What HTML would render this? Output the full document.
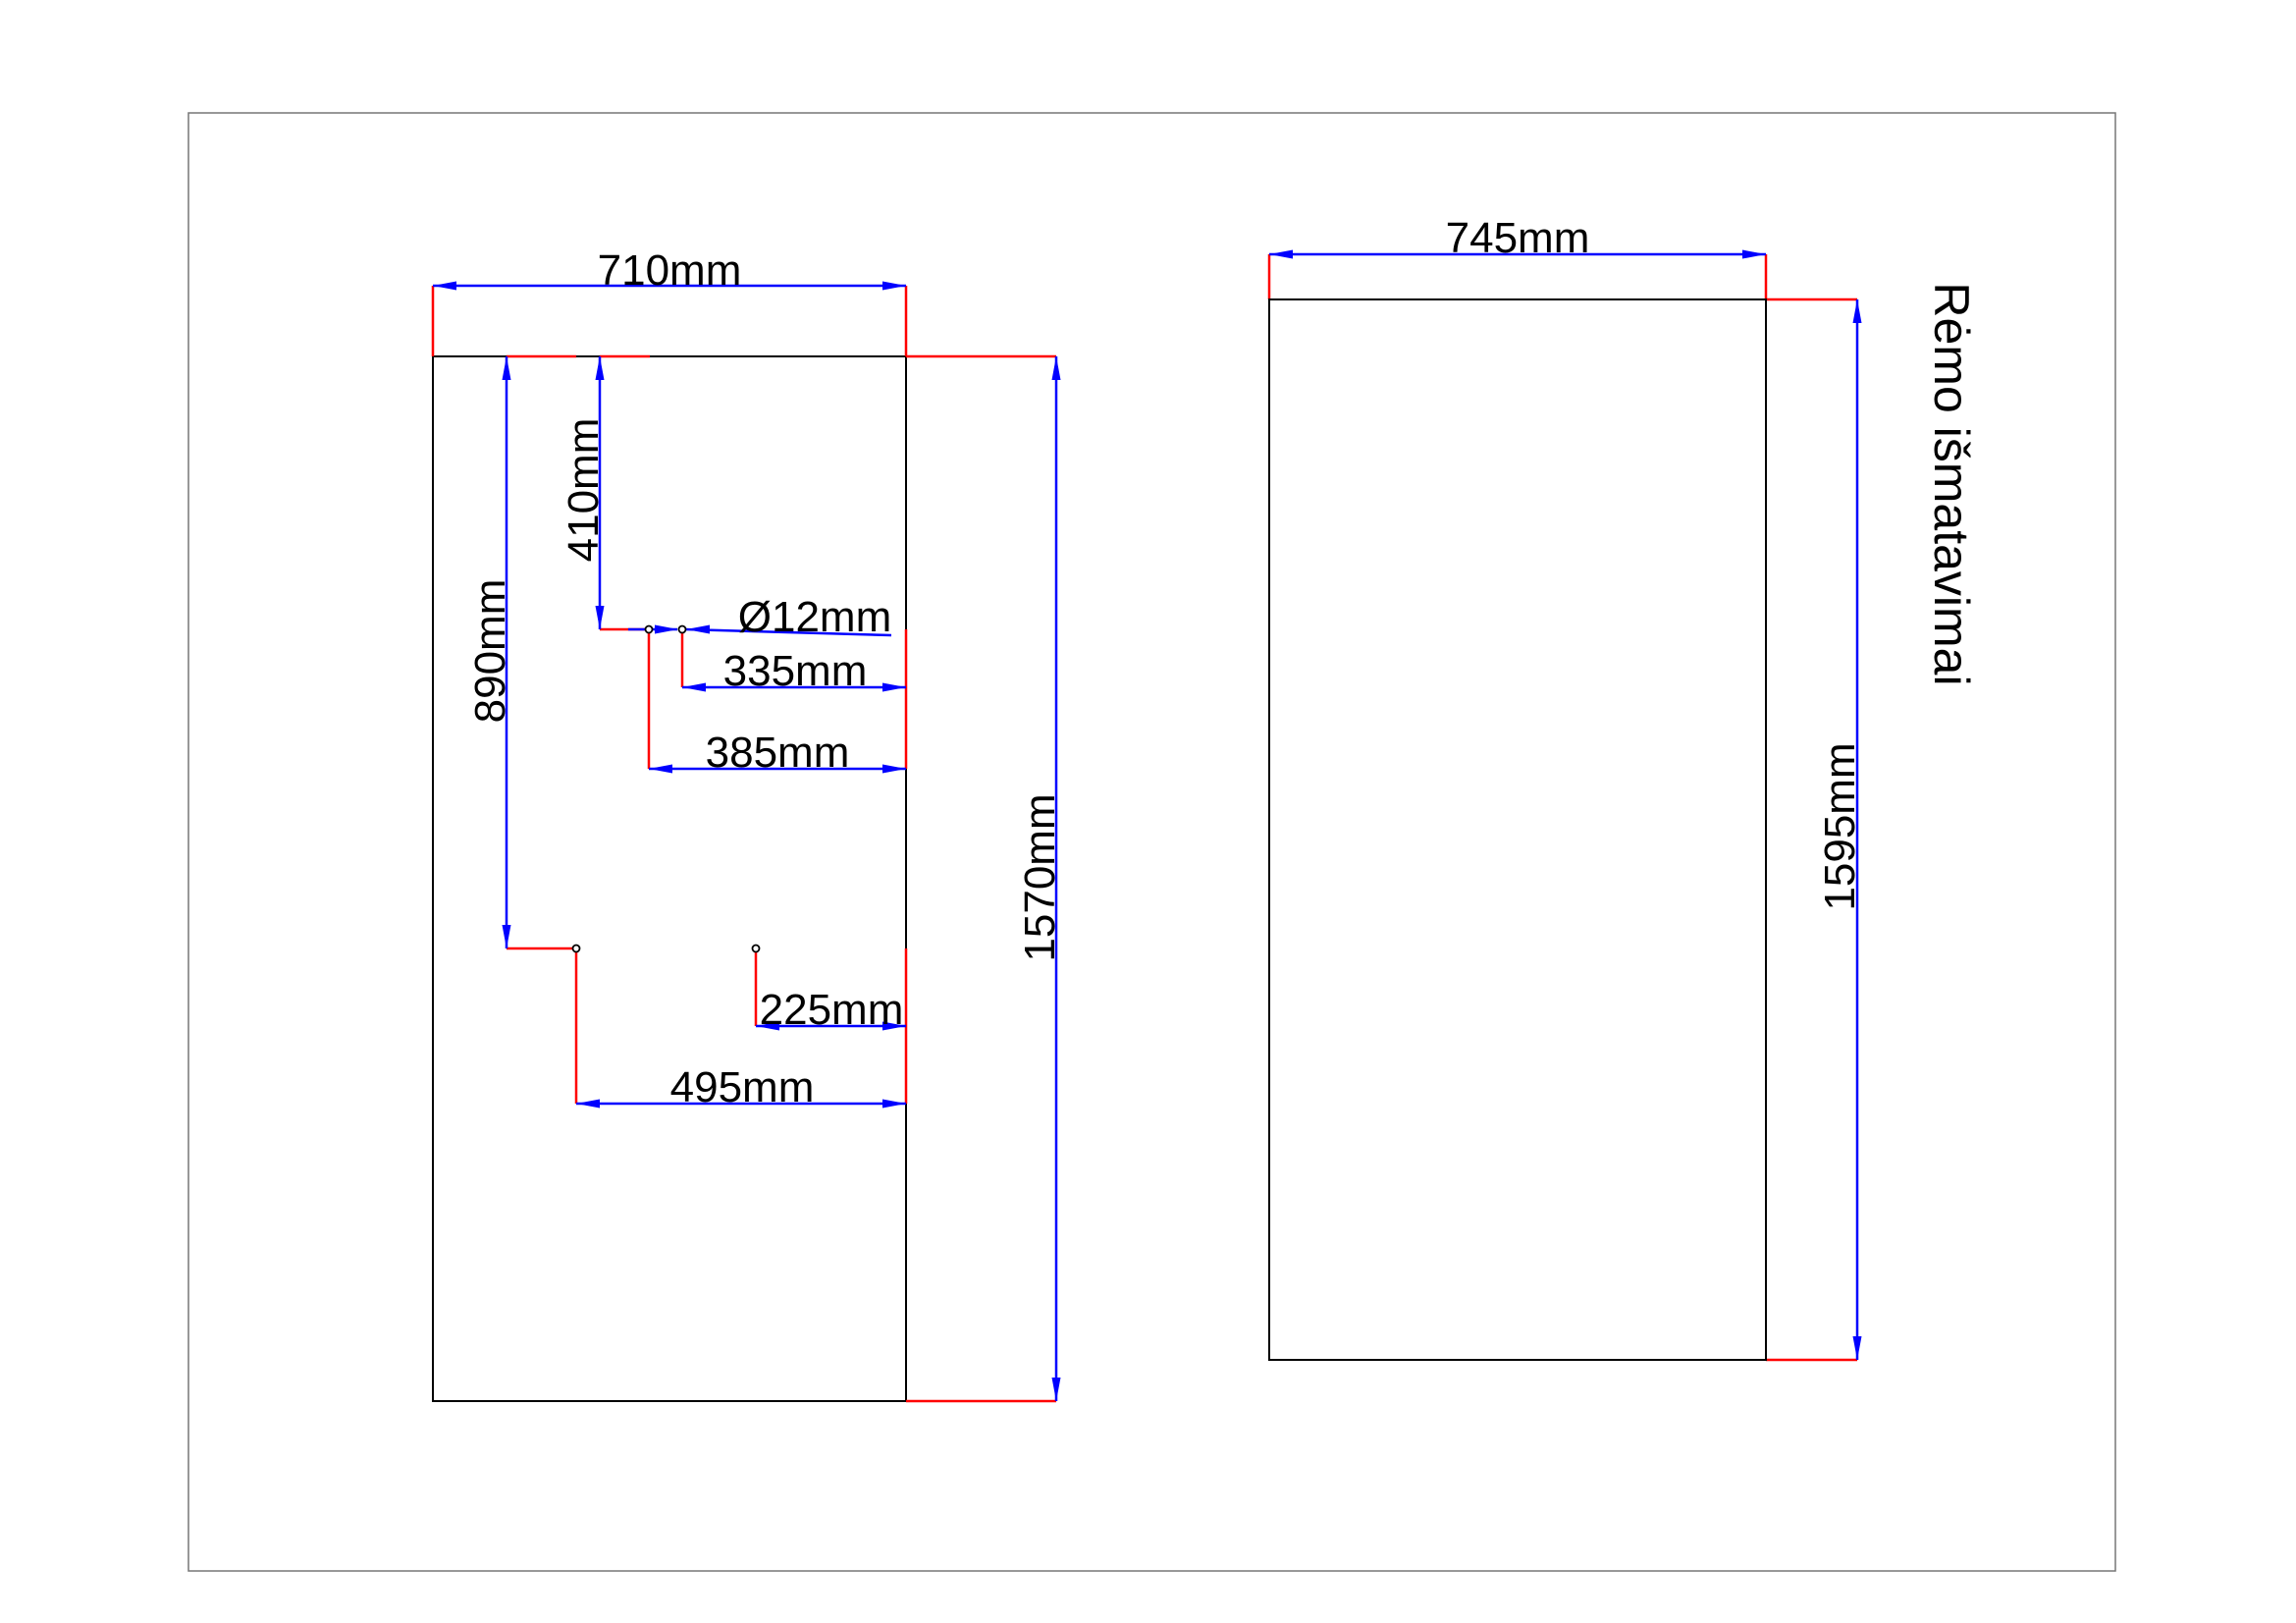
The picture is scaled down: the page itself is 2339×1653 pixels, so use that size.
<!DOCTYPE html>
<html><head><meta charset="utf-8"><style>html,body{margin:0;padding:0;background:#fff}svg{display:block}</style></head>
<body>
<svg width="2339" height="1653" viewBox="0 0 2339 1653" xmlns="http://www.w3.org/2000/svg" font-family="Liberation Sans, Arial, sans-serif" font-size="44">
<rect x="192" y="115" width="1963" height="1485" fill="none" stroke="#777" stroke-width="1.5"/>
<!-- left panel -->
<rect x="441" y="363" width="482" height="1064" fill="none" stroke="#000" stroke-width="2"/>
<g stroke="#f00" stroke-width="2.5" fill="none">
<line x1="441" y1="291" x2="441" y2="363"/>
<line x1="923" y1="291" x2="923" y2="363"/>
<line x1="516" y1="363" x2="587" y2="363"/>
<line x1="611" y1="363" x2="662" y2="363"/>
<line x1="923" y1="363" x2="1076" y2="363"/>
<line x1="923" y1="1427" x2="1076" y2="1427"/>
<line x1="611" y1="641" x2="661" y2="641"/>
<line x1="661" y1="641" x2="661" y2="783"/>
<line x1="695" y1="641" x2="695" y2="700"/>
<line x1="923" y1="641" x2="923" y2="783"/>
<line x1="516" y1="966" x2="587" y2="966"/>
<line x1="587" y1="966" x2="587" y2="1124"/>
<line x1="770" y1="966" x2="770" y2="1045"/>
<line x1="923" y1="966" x2="923" y2="1124"/>
<!-- right -->
<line x1="1293" y1="259" x2="1293" y2="305"/>
<line x1="1799" y1="259" x2="1799" y2="305"/>
<line x1="1799" y1="305" x2="1892" y2="305"/>
<line x1="1799" y1="1385" x2="1892" y2="1385"/>
</g>
<g stroke="#00f" stroke-width="2.5">
<line x1="441" y1="291" x2="923" y2="291"/>
<line x1="516" y1="363" x2="516" y2="966"/>
<line x1="611" y1="363" x2="611" y2="641"/>
<line x1="1076" y1="363" x2="1076" y2="1427"/>
<line x1="640" y1="641" x2="690" y2="641"/>
<line x1="698" y1="641" x2="908" y2="647"/>
<line x1="695" y1="700" x2="923" y2="700"/>
<line x1="661" y1="783" x2="923" y2="783"/>
<line x1="770" y1="1045" x2="923" y2="1045"/>
<line x1="587" y1="1124" x2="923" y2="1124"/>
<line x1="1293" y1="259" x2="1799" y2="259"/>
<line x1="1892" y1="305" x2="1892" y2="1385"/>
</g>
<g fill="#00f">
<polygon points="441,291 465,286.5 465,295.5"/>
<polygon points="923,291 899,286.5 899,295.5"/>
<polygon points="516,363 511.5,387 520.5,387"/>
<polygon points="516,966 511.5,942 520.5,942"/>
<polygon points="611,363 606.5,387 615.5,387"/>
<polygon points="611,641 606.5,617 615.5,617"/>
<polygon points="1076,363 1071.5,387 1080.5,387"/>
<polygon points="1076,1427 1071.5,1403 1080.5,1403"/>
<polygon points="691,641 667,636.5 667,645.5"/>
<polygon points="699,641 723,636.5 723,645.5"/>
<polygon points="695,700 719,695.5 719,704.5"/>
<polygon points="923,700 899,695.5 899,704.5"/>
<polygon points="661,783 685,778.5 685,787.5"/>
<polygon points="923,783 899,778.5 899,787.5"/>
<polygon points="770,1045 794,1040.5 794,1049.5"/>
<polygon points="923,1045 899,1040.5 899,1049.5"/>
<polygon points="587,1124 611,1119.5 611,1128.5"/>
<polygon points="923,1124 899,1119.5 899,1128.5"/>
<polygon points="1293,259 1317,254.5 1317,263.5"/>
<polygon points="1799,259 1775,254.5 1775,263.5"/>
<polygon points="1892,305 1887.5,329 1896.5,329"/>
<polygon points="1892,1385 1887.5,1361 1896.5,1361"/>
</g>
<g fill="#fff" stroke="#000" stroke-width="1.8">
<circle cx="661" cy="641" r="3.5"/>
<circle cx="695" cy="641" r="3.5"/>
<circle cx="587" cy="966" r="3.5"/>
<circle cx="770" cy="966" r="3.5"/>
</g>
<rect x="1293" y="305" width="506" height="1080" fill="none" stroke="#000" stroke-width="2"/>
<g fill="#000" text-anchor="middle">
<text x="682" y="290">710mm</text>
<text x="830" y="643">Ø12mm</text>
<text x="810" y="698">335mm</text>
<text x="792" y="781">385mm</text>
<text x="847" y="1043">225mm</text>
<text x="756" y="1122">495mm</text>
<text x="1546" y="257">745mm</text>
<text transform="translate(514,663) rotate(-90)">890mm</text>
<text transform="translate(609,499) rotate(-90)">410mm</text>
<text transform="translate(1074,894) rotate(-90)">1570mm</text>
<text transform="translate(1889,842) rotate(-90)">1595mm</text>
<text transform="translate(1971,493) rotate(90)" font-size="50">Rėmo išmatavimai</text>
</g>
</svg>
</body></html>
